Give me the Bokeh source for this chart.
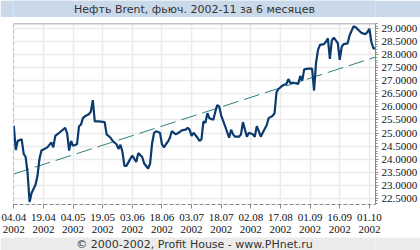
from bokeh.plotting import figure
from bokeh.layouts import column
from bokeh.models import Range1d, FixedTicker, NumeralTickFormatter, Span
from bokeh.embed import file_html
from bokeh.resources import INLINE
from bokeh.core.properties import value

title_text = "Нефть Brent, фьюч. 2002-11 за 6 месяцев"
footer_text = "© 2000-2002, Profit House - www.PHnet.ru"

# days since 04.04.2002
days = [0, 1, 2, 4, 5, 6, 7, 8, 9, 11, 12, 13, 14, 17, 19, 20, 21, 23, 26, 27,
        28, 29, 30, 32, 33, 34, 35, 36, 38, 39, 40, 41, 43, 46, 47, 49, 50, 52, 53, 54,
        55, 56, 57, 59, 60, 61, 62, 63, 65, 66, 68, 69, 70, 71, 72, 74, 75, 76, 77, 78,
        79, 80, 82, 84, 85, 87, 88, 89, 90, 91, 93, 94, 95, 96, 97, 98, 99, 101, 102, 103,
        104, 105, 107, 109, 110, 111, 112, 114, 115, 116, 117, 118, 119, 121, 122, 123, 124, 125, 126, 128,
        129, 131, 132, 133, 134, 136, 138, 139, 140, 142, 144, 145, 146, 147, 149, 151, 152, 153, 154, 155,
        157, 158, 159, 160, 161, 162, 164, 165, 166, 167, 169, 170, 172, 173, 175, 176, 178, 179, 180, 181,
        182, 183]
prices = [25.28, 24.35, 24.70, 24.76, 24.20, 24.08, 23.45, 22.36, 22.70, 23.02, 23.36, 24.01, 24.33, 24.45, 24.64, 24.45, 24.89, 25.01, 25.20, 25.00,
          24.33, 24.70, 24.51, 24.57, 25.26, 25.32, 25.57, 25.64, 25.72, 25.82, 26.26, 25.45, 25.45, 25.42, 24.95, 24.82, 24.70, 24.57, 24.39, 24.55,
          24.28, 23.74, 23.74, 24.01, 24.14, 24.01, 23.89, 24.23, 24.08, 23.83, 23.64, 23.83, 24.60, 25.00, 25.07, 25.01, 24.57, 24.45, 24.57, 24.67,
          24.82, 25.07, 24.95, 25.04, 25.10, 25.13, 25.20, 25.13, 24.89, 25.01, 24.82, 24.70, 24.76, 25.45, 25.39, 25.76, 25.57, 25.51, 25.82, 26.07,
          26.01, 25.67, 25.26, 24.82, 25.13, 24.95, 24.86, 24.86, 24.95, 25.42, 25.13, 24.86, 25.01, 24.95, 24.86, 25.26, 25.07, 24.86, 25.01, 25.30,
          25.57, 25.66, 25.76, 26.57, 26.69, 26.82, 26.88, 27.07, 26.92, 26.92, 26.88, 27.19, 27.00, 27.44, 27.47, 27.47, 26.63, 27.69, 28.19, 28.38,
          28.41, 28.50, 28.63, 27.84, 28.55, 28.66, 28.45, 27.81, 28.31, 28.41, 28.44, 28.75, 29.09, 29.06, 28.91, 28.84, 28.79, 28.87, 29.00, 28.50,
          28.25, 28.25]

trend_days = [0, 183]
trend_prices = [23.43, 27.91]

tick_days = [0, 15, 30, 45, 60, 75, 90, 105, 120, 135, 150, 165, 180]
tick_labels = ["04.04\n2002", "19.04\n2002", "04.05\n2002", "19.05\n2002", "03.06\n2002",
               "18.06\n2002", "03.07\n2002", "18.07\n2002", "02.08\n2002", "17.08\n2002",
               "01.09\n2002", "16.09\n2002", "01.10\n2002"]
y_ticks = [22.5, 23.0, 23.5, 24.0, 24.5, 25.0, 25.5, 26.0, 26.5, 27.0, 27.5, 28.0, 28.5, 29.0]
y_minor = [round(22.3 + 0.1 * i, 2) for i in range(70)]

W = 420


def bar(h, color, txt):
    f = figure(width=W, height=h, x_range=Range1d(0, 1), y_range=Range1d(0, 1),
               toolbar_location=None, output_backend="svg", min_border=0,
               x_axis_location=None, y_axis_location=None, outline_line_color=None)
    f.grid.visible = False
    f.background_fill_color = color
    f.border_fill_color = color
    f.text(x=[0.5], y=[0.5], text=[txt], text_align="center", text_baseline="middle",
           text_font=value("DejaVu Sans"), text_font_size="11px", text_color="#333333")
    return f


top = bar(17, "#c9d9ea", title_text)
bottom = bar(13, "#ebebeb", footer_text)

p = figure(width=W, height=220, x_range=Range1d(-0.15, 183.1), y_range=Range1d(22.26, 29.2),
           toolbar_location=None, output_backend="svg", y_axis_location="right",
           min_border_left=13, min_border_right=43, min_border_top=6, min_border_bottom=29,
           outline_line_color=None)
p.background_fill_color = "white"
p.border_fill_color = "white"

p.xaxis.ticker = FixedTicker(ticks=tick_days)
p.xaxis.major_label_overrides = dict(zip(tick_days, tick_labels))
p.yaxis.ticker = FixedTicker(ticks=y_ticks, minor_ticks=y_minor)
p.yaxis.formatter = NumeralTickFormatter(format="0.0000")

for ax in (p.xaxis, p.yaxis):
    ax.major_label_text_font = "Liberation Sans Narrow"
    ax.major_label_text_font_size = "11px"
    ax.major_label_text_color = "#111111"
    ax.axis_line_color = "#8a8a8a"
    ax.major_tick_line_color = "#8a8a8a"
    ax.major_tick_in = 0
    ax.major_label_text_line_height = 1.0

p.xaxis.axis_line_dash = "4 2"
p.xaxis.major_tick_out = 4
p.xaxis.minor_tick_line_color = None
p.xaxis.major_label_standoff = 2
p.yaxis.major_tick_out = 3
p.yaxis.minor_tick_out = 2
p.yaxis.minor_tick_in = 0
p.yaxis.minor_tick_line_color = "#8a8a8a"
p.yaxis.major_label_standoff = 3

p.grid.grid_line_color = "#ebebeb"
p.grid.grid_line_width = 1.5

p.add_layout(Span(location=29.2, dimension="width", line_color="#8a8a8a", line_width=1.5))
p.add_layout(Span(location=-0.15, dimension="height", line_color="#8a8a8a", line_width=1, line_dash="4 2"))

p.line(trend_days, trend_prices, line_color="#2e7f7f", line_width=1, line_dash="16 6")
p.line(days, prices, line_color="#0b3a6e", line_width=2.2)

layout = column(top, p, bottom, spacing=0)

open("out.html", "w").write(file_html(layout, INLINE))
